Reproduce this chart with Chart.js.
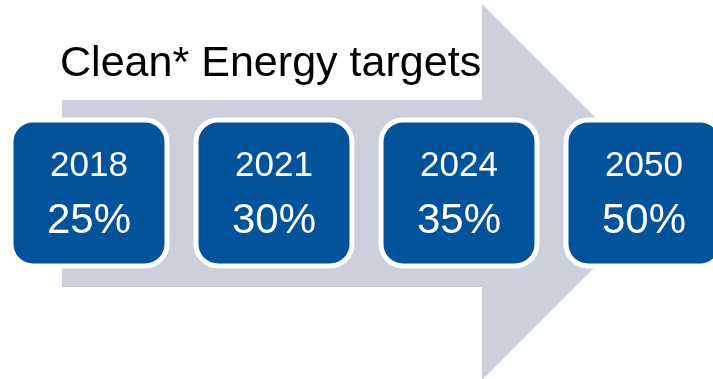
<!DOCTYPE html>
<html>
<head>
<meta charset="utf-8">
<script src="https://cdn.jsdelivr.net/npm/chart.js@4.4.0/dist/chart.umd.min.js"></script>
<style>
  html, body { margin: 0; padding: 0; background: #fff; }
  #wrap { width: 713px; height: 379px; position: relative; }
</style>
</head>
<body>
<div id="wrap"><canvas id="targetsChart"></canvas></div>
<script>
const years = ['2018', '2021', '2024', '2050'];
const targets = [25, 30, 35, 50];
const title = 'Clean* Energy targets';

const BLUE = '#03539a';
const ARROW = '#ccd0dd';
const FONT = '"Liberation Sans", Arial, sans-serif';

// big grey arrow behind the milestone boxes
const arrowPlugin = {
  id: 'arrow',
  beforeDatasetsDraw(chart) {
    const ctx = chart.ctx;
    const x = chart.scales.x;
    const first = x.getPixelForValue(0);
    const step = x.getPixelForValue(1) - first;
    const left = first - 27;
    const neck = first + step * 2 + 23;
    const midY = 192;
    ctx.save();
    ctx.fillStyle = ARROW;
    ctx.beginPath();
    ctx.moveTo(left, 100);
    ctx.lineTo(neck, 100);
    ctx.lineTo(neck, 4);
    ctx.lineTo(neck + 188, midY);
    ctx.lineTo(neck, 380);
    ctx.lineTo(neck, 287);
    ctx.lineTo(left, 287);
    ctx.closePath();
    ctx.fill();

    ctx.fillStyle = '#000';
    ctx.font = '42px ' + FONT;
    ctx.textBaseline = 'alphabetic';
    ctx.textAlign = 'left';
    // slightly wider glyphs for the heading
    ctx.translate(60, 76);
    ctx.scale(1.025, 1);
    ctx.fillText(title, 0, 0);
    ctx.restore();
  }
};

// rounded blue boxes with year and target share
const boxPlugin = {
  id: 'boxes',
  afterDatasetsDraw(chart) {
    const ctx = chart.ctx;
    const x = chart.scales.x;
    const vals = chart.data.datasets[0].data;
    const w = 156, top = 120, h = 146, r = 22;
    ctx.save();
    chart.data.labels.forEach((yr, i) => {
      const cx = x.getPixelForValue(i);
      const bx = cx - w / 2;
      ctx.beginPath();
      ctx.roundRect(bx, top, w, h, r);
      ctx.fillStyle = BLUE;
      ctx.fill();
      ctx.lineWidth = 5;
      ctx.strokeStyle = '#fff';
      ctx.stroke();

      ctx.fillStyle = '#fff';
      ctx.textAlign = 'center';
      ctx.textBaseline = 'alphabetic';
      ctx.font = '35px ' + FONT;
      ctx.fillText(yr, cx, 176);
      ctx.font = '42px ' + FONT;
      ctx.fillText(vals[i] + '%', cx, 233);
    });
    ctx.restore();
  }
};

new Chart(document.getElementById('targetsChart').getContext('2d'), {
  type: 'bar',
  data: {
    labels: years,
    datasets: [{
      label: 'Clean energy target (%)',
      data: targets,
      backgroundColor: 'rgba(0,0,0,0)',
      borderWidth: 0
    }]
  },
  options: {
    responsive: true, maintainAspectRatio: false, animation: false,
    layout: { padding: { left: 89, right: 69, top: 0, bottom: 0 } },
    plugins: { legend: { display: false }, tooltip: { enabled: false } },
    scales: {
      x: { display: false, offset: false },
      y: { display: false, min: 0, max: 100 }
    }
  },
  plugins: [arrowPlugin, boxPlugin]
});
</script>
</body>
</html>
